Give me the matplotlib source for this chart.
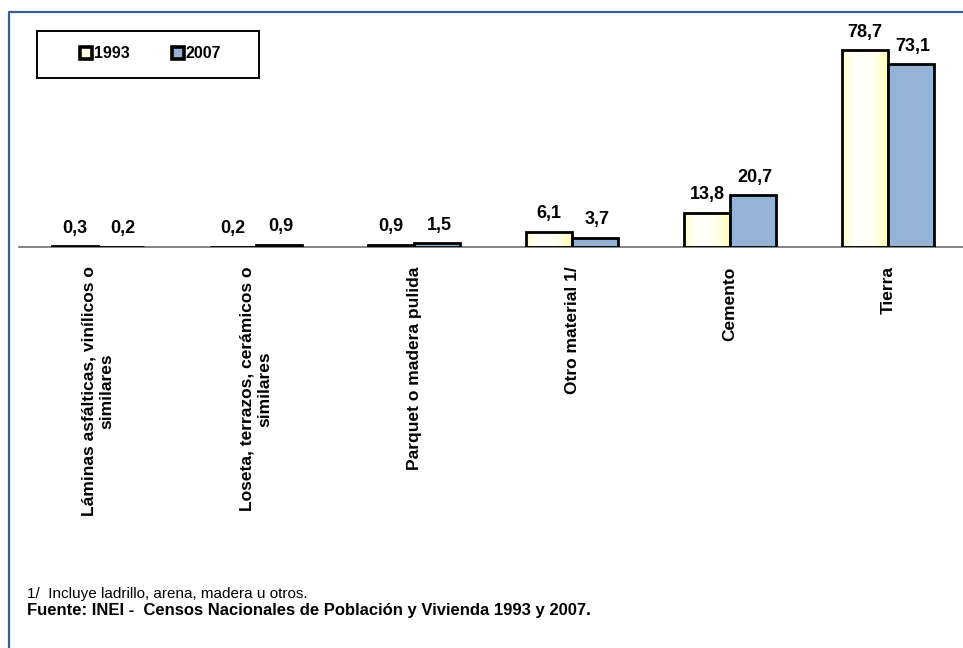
import matplotlib
matplotlib.use("Agg")
import matplotlib.pyplot as plt
import numpy as np
from matplotlib.lines import Line2D
from matplotlib.patches import Rectangle
from matplotlib.colors import LinearSegmentedColormap
from matplotlib import font_manager

plt.rcParams['font.family'] = ['Liberation Sans', 'DejaVu Sans']

categories = ["Láminas asfálticas, vinílicos o\nsimilares",
              "Loseta, terrazos, cerámicos o\nsimilares",
              "Parquet o madera pulida",
              "Otro material 1/",
              "Cemento",
              "Tierra"]
v1993 = [0.3, 0.2, 0.9, 6.1, 13.8, 78.7]
v2007 = [0.2, 0.9, 1.5, 3.7, 20.7, 73.1]
series_labels = ["1993", "2007"]

W, H = 963, 648
fig = plt.figure(figsize=(W / 100, H / 100), dpi=100)
ax = fig.add_axes([19 / W, 1 - 247 / H, (967 - 19) / W, (247 - 22) / H])

x = np.arange(len(categories))
bw = 0.29
c2007 = "#95B3D7"
grad = LinearSegmentedColormap.from_list("g", ["#FFFFD2", "#FFFFFF", "#FFFFF0", "#FFFFB8"])

bars1 = ax.bar(x - bw / 2, v1993, bw, facecolor="none", edgecolor="black", linewidth=2.0, zorder=3)
bars2 = ax.bar(x + bw / 2, v2007, bw, facecolor=c2007, edgecolor="black", linewidth=2.0, zorder=3)

gimg = np.linspace(0, 1, 64).reshape(1, -1)
for b in bars1:
    bx, by = b.get_x(), b.get_y()
    im = ax.imshow(gimg, cmap=grad, aspect="auto",
                   extent=[bx, bx + b.get_width(), by, by + b.get_height()], zorder=2)
    im.set_clip_path(b)

ax.set_xlim(-0.5, len(categories) - 0.5)
ax.set_ylim(0, 90)

for i in range(len(categories)):
    ax.annotate(f"{v1993[i]:.1f}".replace(".", ","), (x[i] - bw / 2, v1993[i]),
                xytext=(0, 7), textcoords="offset points", ha="center", va="bottom",
                fontsize=13, fontweight="bold")
    ax.annotate(f"{v2007[i]:.1f}".replace(".", ","), (x[i] + bw / 2, v2007[i]),
                xytext=(1.5, 7), textcoords="offset points", ha="center", va="bottom",
                fontsize=13, fontweight="bold")

ax.set_xticks(x)
ax.set_xticklabels(categories, rotation=90, ha="center", va="top",
                   fontsize=12.5, fontweight="bold", multialignment="center")
ax.tick_params(axis="x", length=0, pad=14)
ax.set_yticks([])
for s in ["top", "right", "left"]:
    ax.spines[s].set_visible(False)
ax.spines["bottom"].set_color("#707070")
ax.spines["bottom"].set_linewidth(1.2)
ax.set_facecolor("none")

# outer blue frame
fig.add_artist(Line2D([9 / W, 9 / W, 1.0], [0.0, 1 - 12 / H, 1 - 12 / H],
                      color="#3B5E8C", linewidth=1.6, transform=fig.transFigure))

# legend box
fig.add_artist(Rectangle((37 / W, 1 - 78 / H), (259 - 37) / W, (78 - 31) / H,
                         transform=fig.transFigure, fill=False, edgecolor="black", linewidth=1.4))
handles = [Line2D([], [], marker="s", linestyle="none", markersize=9, markeredgewidth=2.6,
                  markeredgecolor="black", markerfacecolor="#FFFFE8"),
           Line2D([], [], marker="s", linestyle="none", markersize=9, markeredgewidth=2.6,
                  markeredgecolor="black", markerfacecolor=c2007)]
fig.legend(handles, series_labels, loc="center", bbox_to_anchor=(151 / W, 1 - 54 / H),
           ncol=2, frameon=False, handlelength=0.7, handletextpad=0.12, columnspacing=2.7,
           prop={"weight": "bold", "size": 11.5})

fig.text(27 / W, 1 - 594 / H, "1/  Incluye ladrillo, arena, madera u otros.",
         fontsize=11, va="center", ha="left")
fig.text(27 / W, 1 - 611 / H,
         "Fuente: INEI -  Censos Nacionales de Población y Vivienda 1993 y 2007.",
         fontsize=12, fontweight="bold", va="center", ha="left")

fig.savefig("out.png", dpi=100)
